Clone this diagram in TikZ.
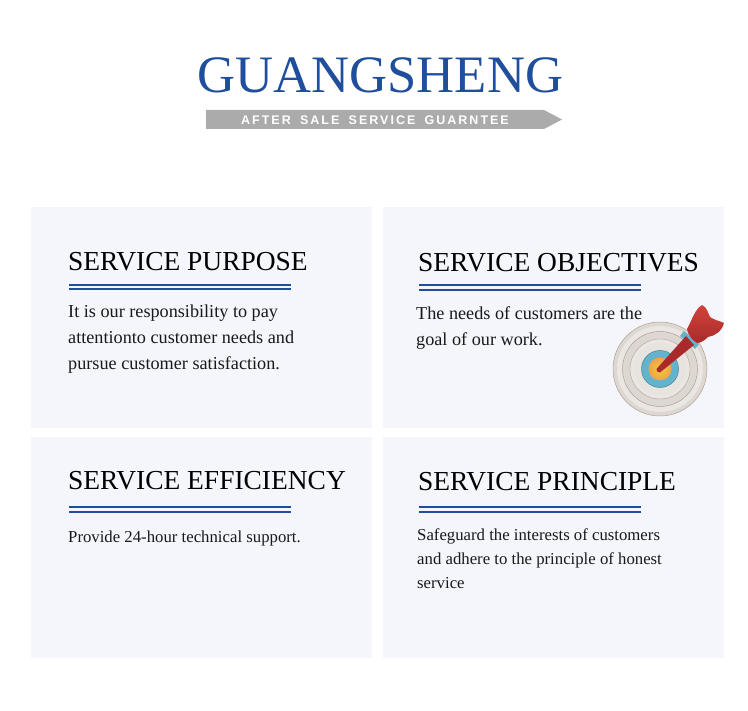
\documentclass[tikz,border=0pt]{standalone}
\usepackage{fontspec}
\setmainfont{Liberation Serif}
\newfontfamily\ribbonf[LetterSpace=16,WordSpace=1.7]{Liberation Sans}
\definecolor{brandblue}{HTML}{1F4E9C}
\definecolor{panelbg}{HTML}{F5F6FB}
\definecolor{ribbon}{HTML}{ABABAB}
\definecolor{ringgrey}{HTML}{DDD7D2}
\definecolor{ringedge}{HTML}{B39F98}
\definecolor{ringlight}{HTML}{EAE6E2}
\definecolor{bullblue}{HTML}{63B3CC}
\definecolor{bullgold}{HTML}{EDB452}
\definecolor{dartred}{HTML}{D0443C}
\definecolor{dartdark}{HTML}{A92A2A}
\tikzset{
  x=1pt,y=-1pt,
  panel/.style={fill=panelbg,draw=none},
  heading/.style={anchor=base west,inner sep=0pt,font=\fontsize{27.45}{27.45}\selectfont,text=black},
  bodytext/.style={anchor=base west,inner sep=0pt,text=black!90,font=\fontsize{18.2}{18.2}\selectfont},
  smalltext/.style={anchor=base west,inner sep=0pt,text=black!90,font=\fontsize{16.75}{16.75}\selectfont},
  rule/.style={draw=brandblue,line width=2pt},
}
\newcommand{\dblrule}[3]{%
  \draw[rule] (#1,#3) -- (#2,#3);
  \draw[rule] (#1,#3+4.4) -- (#2,#3+4.4);
}
\begin{document}
\begin{tikzpicture}
\useasboundingbox (0,0) rectangle (748,711);
\fill[white] (0,0) rectangle (748,711);
% Title
\node[anchor=base,inner sep=0pt,font=\fontsize{52.6}{52.6}\selectfont,text=brandblue] (title) at (380.5,93) {GUANGSHENG};
\fill[ribbon] (206,110) -- (544,110) -- (562,119.5) -- (544,129) -- (206,129) -- cycle;
\node[anchor=base,inner sep=0pt,font=\ribbonf\bfseries\fontsize{12.5}{12.5}\selectfont,text=white] (sub) at (375,124.5) {AFTER SALE SERVICE GUARNTEE};
% Panels
\fill[panel] (31,207) rectangle (372,428);
\fill[panel] (383,207) rectangle (724,428);
\fill[panel] (31,437) rectangle (372,658);
\fill[panel] (383,437) rectangle (724,658);
% Panel 1
\node[heading] (h1) at (68,270.5) {SERVICE PURPOSE};
\dblrule{69}{291}{284.7}
\node[bodytext] (b1a) at (68,318) {It is our responsibility to pay};
\node[bodytext] (b1b) at (68,344) {attentionto customer needs and};
\node[bodytext] (b1c) at (68,370) {pursue customer satisfaction.};
% Panel 2
\node[heading] (h2) at (418,271.5) {SERVICE OBJECTIVES};
\dblrule{419}{641}{285.5}
\node[bodytext] (b2a) at (416,320) {The needs of customers are the};
\node[bodytext] (b2b) at (416,346) {goal of our work.};
% Panel 3
\node[heading] (h3) at (68,490) {SERVICE EFFICIENCY};
\dblrule{69}{291}{507.5}
\node[smalltext] (b3a) at (68,543) {Provide 24-hour technical support.};
% Panel 4
\node[heading] (h4) at (418,490.5) {SERVICE PRINCIPLE};
\dblrule{419}{641}{507.5}
\node[smalltext] (b4a) at (417,541) {Safeguard the interests of customers};
\node[smalltext] (b4b) at (417,565) {and adhere to the principle of honest};
\node[smalltext] (b4c) at (417,589) {service};
% Target
\fill[ringgrey,draw=ringedge,line width=.5pt] (660,369) circle[radius=47];
\fill[ringlight] (660,369) circle[radius=43];
\fill[ringgrey,draw=ringedge,line width=.5pt] (660,369) circle[radius=37.5];
\fill[ringlight,draw=ringedge,line width=.4pt] (660,369) circle[radius=30];
\fill[ringgrey!70!white] (660,369) circle[radius=26];
\fill[bullblue,draw=bullblue!75!black,line width=.5pt] (660,369) circle[radius=18.5];
\shade[inner color=bullgold!70!yellow,outer color=bullgold!90!red] (660,369) circle[radius=11.5];
% Dart
\fill[bullblue] (680,336) -- (684,331) -- (699,344) -- (695,349) -- cycle;
\fill[dartdark] (656.5,369) .. controls (656,371) and (658,373) .. (660,372.5) -- (694,345) -- (686,336) -- cycle;
\shade[top color=dartred,bottom color=dartdark] (687,329) .. controls (692,320) and (695,309) .. (702,305)
  .. controls (707,307) and (708,313) .. (710,317)
  .. controls (714,320) and (720,321) .. (724,323)
  .. controls (722,331) and (715,336) .. (708,337)
  .. controls (705,340) and (701,343) .. (697,343)
  .. controls (692,340) and (688,335) .. (687,329) -- cycle;
\end{tikzpicture}
\end{document}
